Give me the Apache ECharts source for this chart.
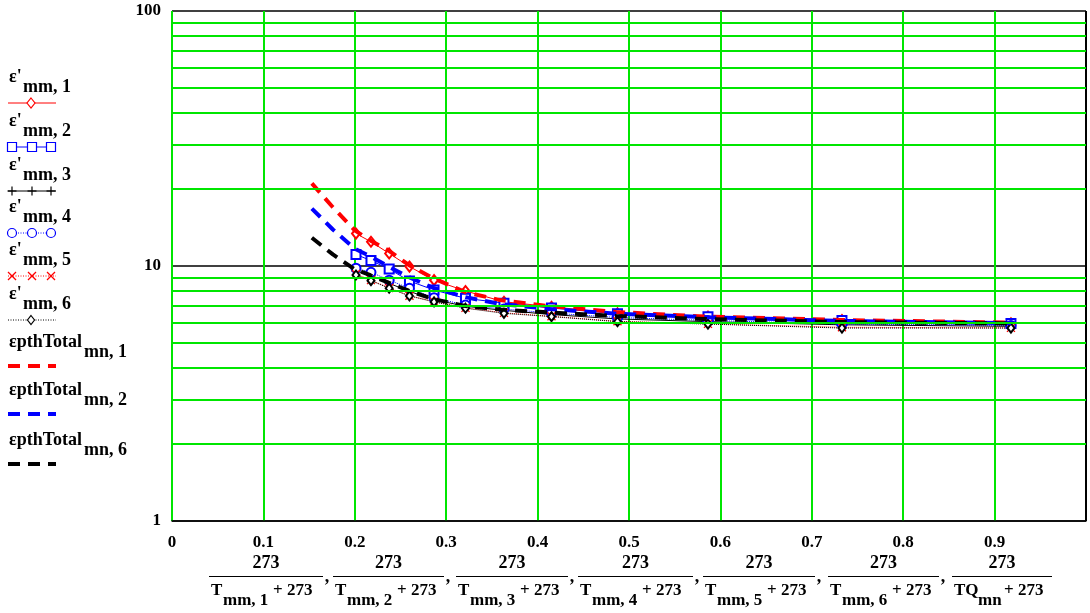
<!DOCTYPE html>
<html><head><meta charset="utf-8">
<script src="https://cdn.jsdelivr.net/npm/echarts@6/dist/echarts.min.js"></script>
<style>html,body{margin:0;padding:0;background:#fff}#c{width:1090px;height:613px}</style>
</head><body><div id="c"></div>
<script>
// ---- data ----
var xMeasured = [0.2013, 0.2177, 0.2376, 0.2598, 0.2867, 0.3211, 0.3632, 0.4152, 0.4874, 0.5864, 0.7330, 0.9179];
var epsMM1 = [13.4, 12.45, 11.2, 9.95, 8.8, 7.98, 7.24, 6.92, 6.52, 6.33, 6.14, 5.96];
var epsMM2 = [11.1, 10.5, 9.73, 8.73, 8.05, 7.47, 7.15, 6.84, 6.5, 6.33, 6.12, 5.95];
var epsMM3 = [9.55, 9.2, 8.55, 7.95, 7.38, 6.95, 6.7, 6.45, 6.2, 6.05, 5.88, 5.8];
var epsMM4 = [9.8, 9.45, 8.8, 8.18, 7.5, 7.03, 6.78, 6.54, 6.28, 6.12, 5.92, 5.85];
var epsMM5 = [9.3, 8.8, 8.2, 7.65, 7.25, 6.85, 6.55, 6.35, 6.07, 5.93, 5.75, 5.72];
var epsMM6 = [9.22, 8.76, 8.18, 7.63, 7.23, 6.83, 6.52, 6.33, 6.05, 5.92, 5.71, 5.71];
var xTheory = [0.153, 0.176, 0.2, 0.217, 0.237, 0.259, 0.286, 0.321, 0.359, 0.414, 0.486, 0.586, 0.732, 0.918];
var epsTotal1 = [21.1, 17.0, 13.8, 12.6, 11.5, 10.1, 8.95, 7.9, 7.35, 6.95, 6.6, 6.33, 6.14, 6.0];
var epsTotal2 = [16.8, 13.9, 11.7, 10.9, 9.95, 9.05, 8.2, 7.55, 7.1, 6.78, 6.5, 6.3, 6.09, 5.97];
var epsTotal6 = [12.9, 11.1, 9.7, 9.2, 8.6, 8.0, 7.42, 6.97, 6.75, 6.57, 6.37, 6.19, 6.03, 5.95];
var minorGridValues = [2, 3, 4, 5, 6, 7, 8, 9, 20, 30, 40, 50, 60, 70, 80, 90];
var legendMain = ["ε'", "ε'", "ε'", "ε'", "ε'", "ε'", "εpthTotal", "εpthTotal", "εpthTotal"];
var legendSub = ["mm, 1", "mm, 2", "mm, 3", "mm, 4", "mm, 5", "mm, 6", "mn, 1", "mn, 2", "mn, 6"];
var fracMain = ["T", "T", "T", "T", "T", "T", "TQ"];
var fracSub = ["mm, 1", "mm, 2", "mm, 3", "mm, 4", "mm, 5", "mm, 6", "mn"];

// ---- styles ----
var FONT = '"Liberation Serif", "Times New Roman", serif';
var RED = '#ff0000', BLUE = '#0000ff', BLACK = '#000000', GREEN = '#00e600';
var PLUS = 'path://M0,5L10,5M5,0L5,10';
var CROSS = 'path://M0,0L10,10M10,0L0,10';

function pairs(xs, ys) { return ys.map(function (v, i) { return [xs[i], v]; }); }

var seriesDefs = [
  {data: epsMM1, color: RED, symbol: 'emptyDiamond', size: [8, 10], type: 'solid'},
  {data: epsMM2, color: BLUE, symbol: 'emptyRect', size: 9, type: 'solid'},
  {data: epsMM3, color: BLACK, symbol: PLUS, size: 9, type: 'solid'},
  {data: epsMM4, color: BLUE, symbol: 'emptyCircle', size: 9, type: 'dotted'},
  {data: epsMM5, color: RED, symbol: CROSS, size: 8, type: 'dotted'},
  {data: epsMM6, color: BLACK, symbol: 'emptyDiamond', size: [7, 9], type: 'dotted'}
];
var theoryDefs = [
  {data: epsTotal1, color: RED},
  {data: epsTotal2, color: BLUE},
  {data: epsTotal6, color: BLACK}
];

var series = [{
  type: 'line', data: [], silent: true, z: 1,
  markLine: {
    silent: true, symbol: 'none', animation: false, label: {show: false},
    lineStyle: {color: GREEN, width: 2, type: 'solid'},
    data: minorGridValues.map(function (v) { return {yAxis: v}; })
  }
}];
seriesDefs.forEach(function (d) {
  var isPath = d.symbol.indexOf('path://') === 0;
  series.push({
    type: 'line', data: pairs(xMeasured, d.data), symbol: d.symbol, symbolSize: d.size,
    showAllSymbol: true, z: 3, animation: false,
    lineStyle: {color: d.color, width: 1, type: d.type},
    itemStyle: isPath ? {color: 'transparent', borderColor: d.color, borderWidth: 1.3} : {color: d.color, borderColor: d.color, borderWidth: 1.2}
  });
});
theoryDefs.forEach(function (d) {
  series.push({
    type: 'line', data: pairs(xTheory, d.data), symbol: 'none', z: 4, animation: false,
    lineStyle: {color: d.color, width: 4, type: [12, 8]}
  });
});

// ---- legend drawn as graphics ----
var graphics = [];
var sampleY = [103, 147, 191, 233, 276, 320, 366, 414, 464];
function markerShape(kind, cx, cy, color) {
  if (kind === 0) return {type: 'polygon', shape: {points: [[cx, cy - 5], [cx + 4, cy], [cx, cy + 5], [cx - 4, cy]]}, style: {fill: '#fff', stroke: color, lineWidth: 1.2}};
  if (kind === 1) return {type: 'rect', shape: {x: cx - 4.5, y: cy - 4.5, width: 9, height: 9}, style: {fill: '#fff', stroke: color, lineWidth: 1.2}};
  if (kind === 2) return {type: 'polyline', shape: {points: [[cx - 4.5, cy], [cx + 4.5, cy]]}, style: {stroke: color, lineWidth: 1.2}, extra: {type: 'polyline', shape: {points: [[cx, cy - 4.5], [cx, cy + 4.5]]}, style: {stroke: color, lineWidth: 1.2}}};
  if (kind === 3) return {type: 'circle', shape: {cx: cx, cy: cy, r: 4.5}, style: {fill: '#fff', stroke: color, lineWidth: 1.2}};
  if (kind === 4) return {type: 'polyline', shape: {points: [[cx - 4, cy - 4], [cx + 4, cy + 4]]}, style: {stroke: color, lineWidth: 1.2}, extra: {type: 'polyline', shape: {points: [[cx + 4, cy - 4], [cx - 4, cy + 4]]}, style: {stroke: color, lineWidth: 1.2}}};
  return {type: 'polygon', shape: {points: [[cx, cy - 4.5], [cx + 3.5, cy], [cx, cy + 4.5], [cx - 3.5, cy]]}, style: {fill: '#fff', stroke: color, lineWidth: 1.2}};
}
legendMain.forEach(function (m, i) {
  var sy = sampleY[i];
  var isTheory = i >= 6;
  var mainW = isTheory ? 75 : 14;
  graphics.push({type: 'text', x: 9, y: sy - (isTheory ? 24 : 26), z: 10,
    style: {text: m, font: 'bold 18px ' + FONT, fill: '#000', align: 'left', verticalAlign: 'middle'}});
  graphics.push({type: 'text', x: 9 + mainW, y: sy - (isTheory ? 14 : 16), z: 10,
    style: {text: legendSub[i], font: 'bold 18px ' + FONT, fill: '#000', align: 'left', verticalAlign: 'middle'}});
  if (!isTheory) {
    var d = seriesDefs[i];
    graphics.push({type: 'polyline', shape: {points: [[8, sy], [56, sy]]}, z: 10,
      style: {stroke: d.color, lineWidth: 1, lineDash: d.type === 'dotted' ? [1, 1.5] : null}});
    var xs = (i === 0 || i === 5) ? [31] : [12, 32, 51];
    xs.forEach(function (mx) {
      var s = markerShape(i, mx, sy, d.color);
      var extra = s.extra; delete s.extra;
      s.z = 11; graphics.push(s);
      if (extra) { extra.z = 11; graphics.push(extra); }
    });
  } else {
    var t = theoryDefs[i - 6];
    graphics.push({type: 'polyline', shape: {points: [[8, sy], [56, sy]]}, z: 10,
      style: {stroke: t.color, lineWidth: 4, lineDash: [12, 8]}});
  }
});

// ---- x axis title (fractions) ----
var fracLeft = [209, 333, 456, 578, 703, 828, 952];
var fracWidth = [114, 111, 112, 115, 112, 111, 100];
fracMain.forEach(function (m, i) {
  var L = fracLeft[i], W = fracWidth[i];
  var last = m !== 'T';
  graphics.push({type: 'text', x: L + W / 2, y: 563, z: 10,
    style: {text: '273', font: 'bold 18px ' + FONT, fill: '#000', align: 'center', verticalAlign: 'middle'}});
  graphics.push({type: 'polyline', shape: {points: [[L, 576.5], [L + W, 576.5]]}, z: 10, style: {stroke: '#000', lineWidth: 1}});
  graphics.push({type: 'text', x: L + 2, y: 591, z: 10,
    style: {text: m, font: 'bold 17px ' + FONT, fill: '#000', align: 'left', verticalAlign: 'middle'}});
  graphics.push({type: 'text', x: L + (last ? 26 : 14), y: 601, z: 10,
    style: {text: fracSub[i], font: 'bold 17px ' + FONT, fill: '#000', align: 'left', verticalAlign: 'middle'}});
  graphics.push({type: 'text', x: L + (last ? 52 : 64), y: 591, z: 10,
    style: {text: '+ 273', font: 'bold 17px ' + FONT, fill: '#000', align: 'left', verticalAlign: 'middle'}});
  if (i < fracMain.length - 1) {
    graphics.push({type: 'text', x: L + W + 4, y: 577, z: 10,
      style: {text: ',', font: 'bold 18px ' + FONT, fill: '#000', align: 'center', verticalAlign: 'middle'}});
  }
});

var xSplitColors = [];
for (var k = 0; k < 10; k++) xSplitColors.push(GREEN);
xSplitColors.push(BLACK);

var chart = echarts.init(document.getElementById('c'), null, {renderer: 'canvas'});
chart.setOption({
  animation: false,
  backgroundColor: '#fff',
  grid: {left: 172, right: 4, top: 11, bottom: 92, containLabel: false},
  xAxis: {
    type: 'value', min: 0, max: 1, interval: 0.1,
    axisLine: {show: true, onZero: false, lineStyle: {color: '#000', width: 1.5}},
    axisTick: {show: false},
    axisLabel: {margin: 13, color: '#000', fontFamily: FONT, fontWeight: 'bold', fontSize: 17,
      formatter: function (v) { return v > 0.95 ? '' : String(+v.toFixed(1)); }},
    splitLine: {show: true, lineStyle: {color: xSplitColors, width: 2}}
  },
  yAxis: {
    type: 'log', logBase: 10, min: 1, max: 100,
    axisLine: {show: false},
    axisTick: {show: false},
    axisLabel: {margin: 11, color: '#000', fontFamily: FONT, fontWeight: 'bold', fontSize: 17},
    splitLine: {show: true, lineStyle: {color: '#000', width: 1.5}}
  },
  series: series,
  graphic: graphics
});
</script>
</body></html>
